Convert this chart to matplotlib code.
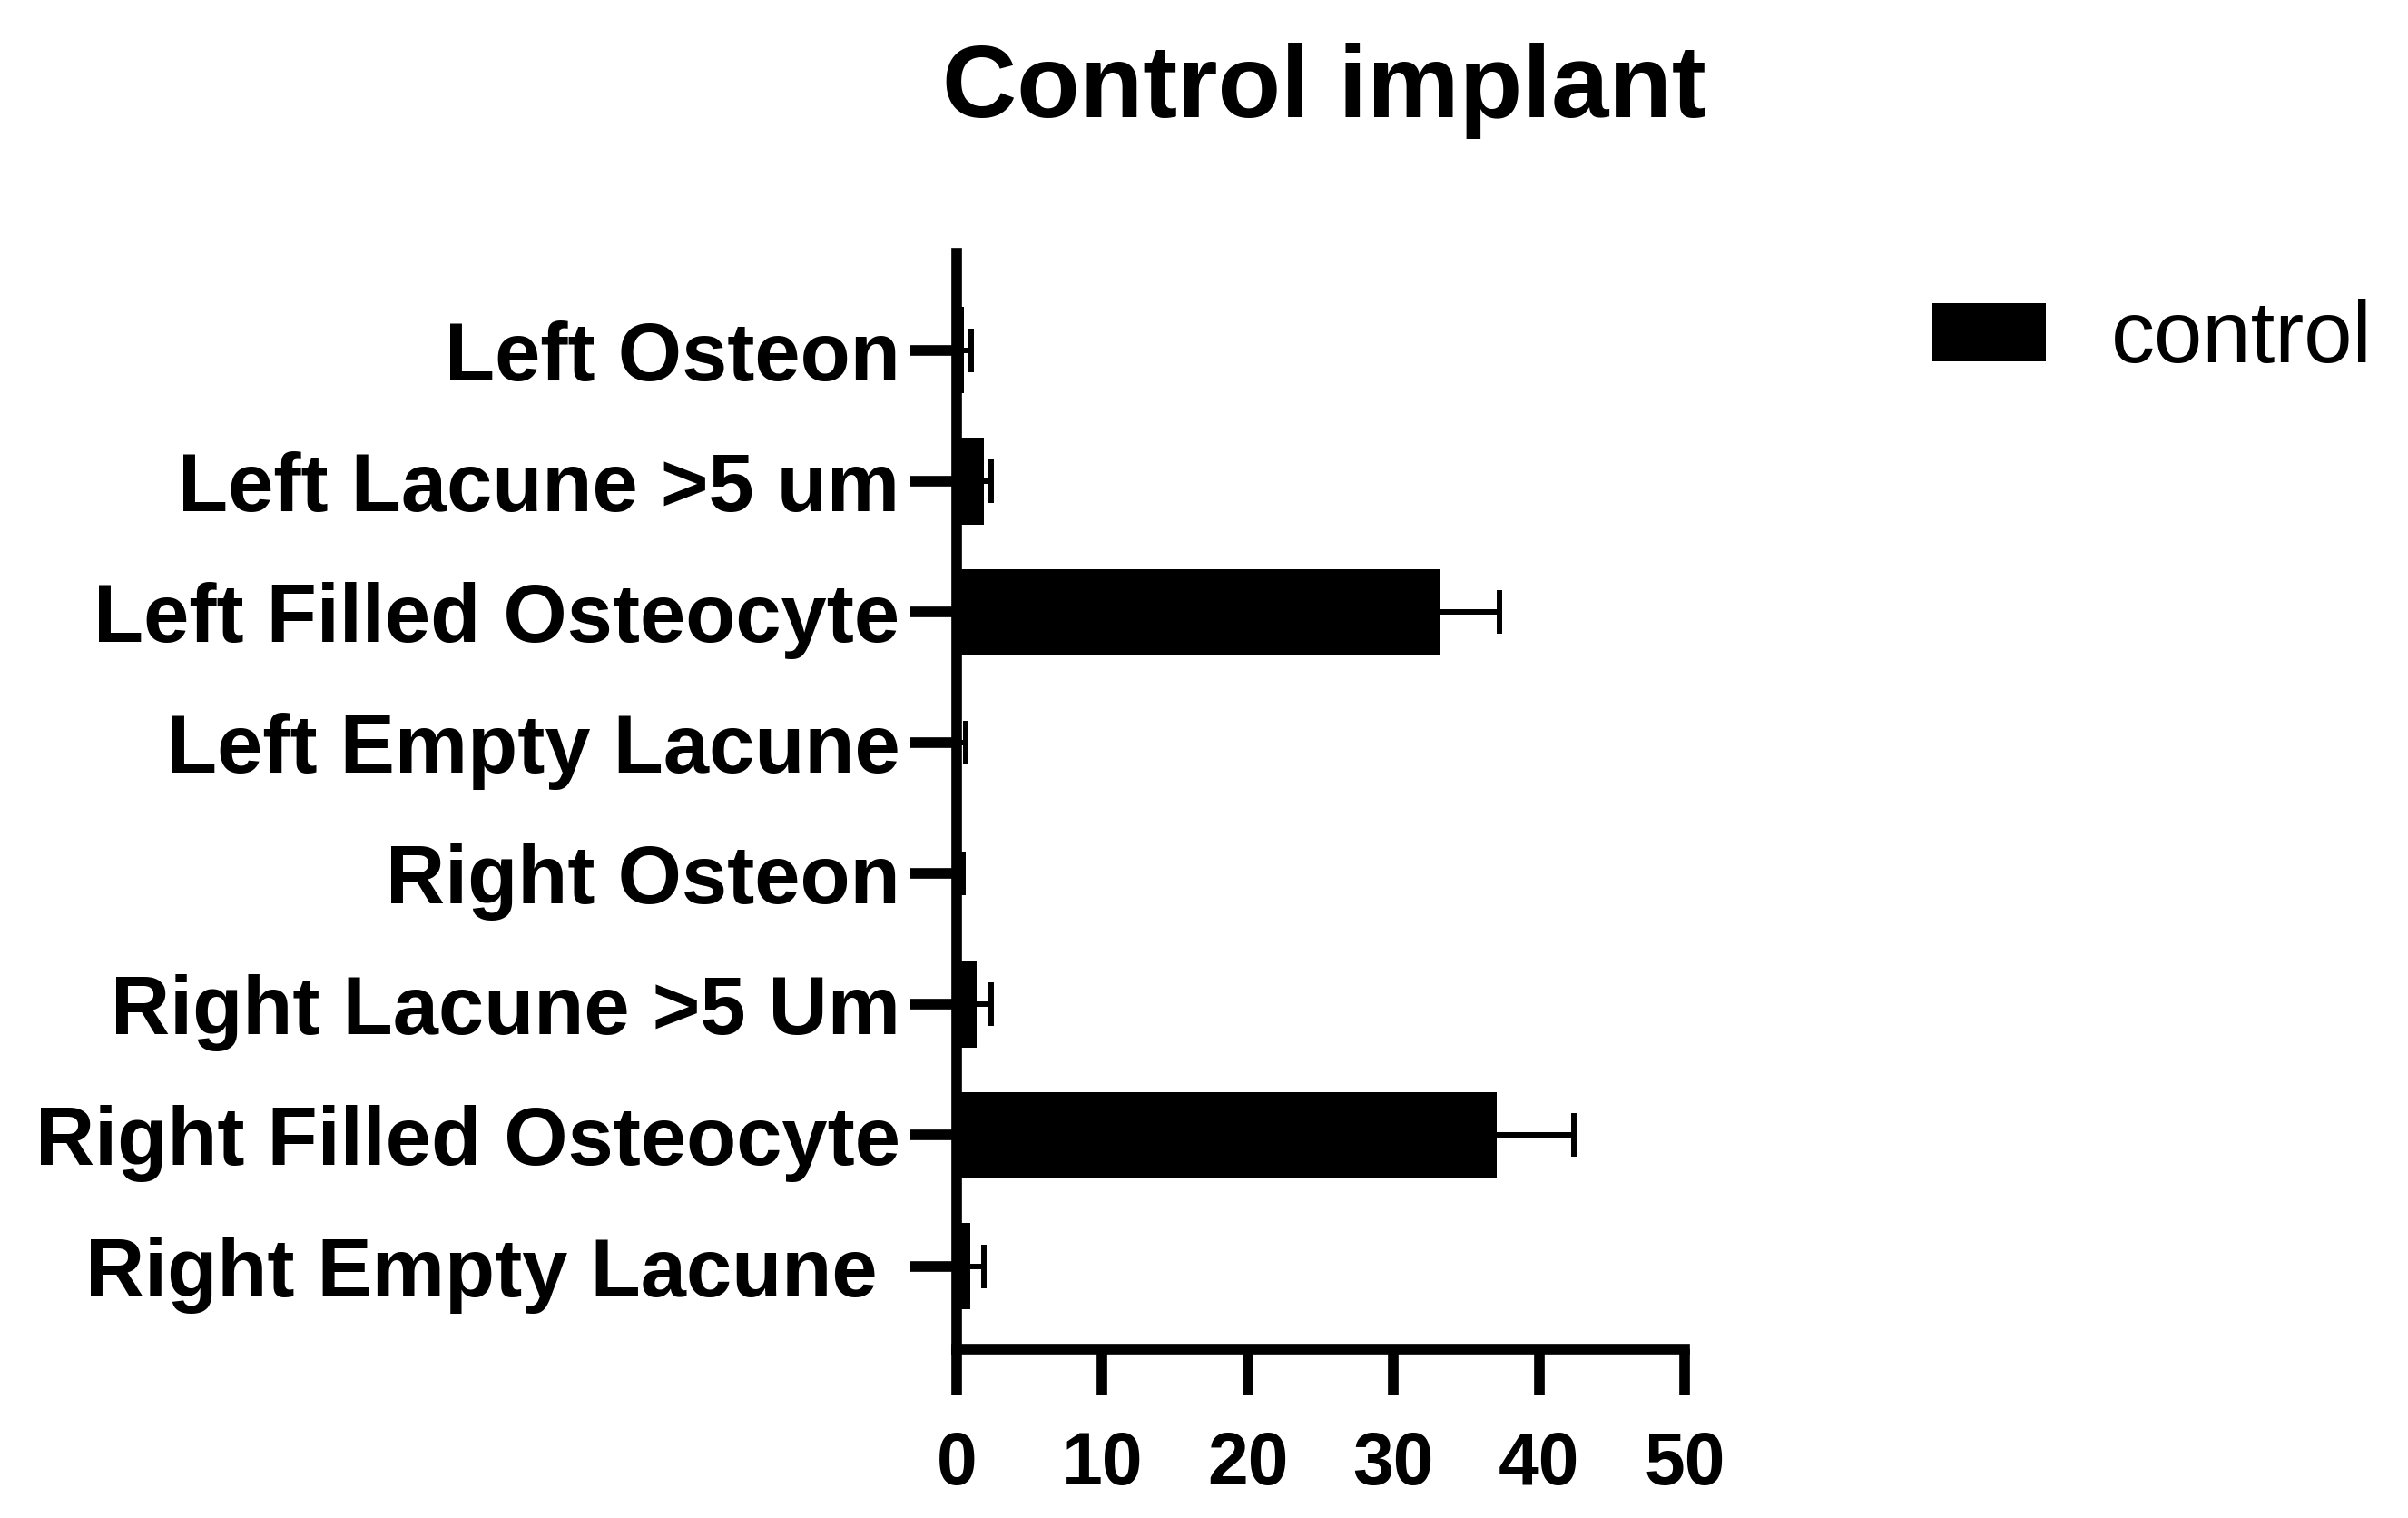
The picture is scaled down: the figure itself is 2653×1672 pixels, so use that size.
import numpy as np
import matplotlib.pyplot as plt

plt.rcParams['font.family'] = ['Liberation Sans', 'DejaVu Sans']

# categories, top to bottom
labels = ['Left Osteon', 'Left Lacune >5 um', 'Left Filled Osteocyte',
          'Left Empty Lacune', 'Right Osteon', 'Right Lacune >5 Um',
          'Right Filled Osteocyte', 'Right Empty Lacune ']
means = [0.5, 1.85, 33.2, 0.2, 0.1, 1.4, 37.1, 0.95]
errs = [0.5, 0.5, 4.1, 0.4, 0.35, 0.95, 5.3, 0.9]
xticks = [0, 10, 20, 30, 40, 50]

fig = plt.figure(figsize=(26.53, 16.72), dpi=100)
ax = fig.add_axes([0.3973, 0.1113, 0.3023, 0.7217])

y = np.arange(len(labels))
means = np.array(means)
errs = np.array(errs)
ax.barh(y, means, height=0.66, color='black', label='control', zorder=2)
# one-sided error bars (upper only), cap only at the far end
ax.errorbar(means, y, xerr=[np.zeros(len(errs)), errs], fmt='none',
            ecolor='black', elinewidth=4.3, capsize=0, zorder=3)
ax.plot(means + errs, y, linestyle='none', marker='|', markersize=35,
        markeredgewidth=4.3, color='black', zorder=3)

ax.set_yticks(y)
ax.set_yticklabels(labels, fontweight='bold', fontsize=65)
ax.set_ylim(len(labels) - 1 + 0.634, -0.74)
ax.set_xlim(0, 50)
ax.set_xticks(xticks)
ax.set_xticklabels([str(t) for t in xticks], fontweight='bold', fontsize=58)

for s in ['top', 'right']:
    ax.spines[s].set_visible(False)
ax.spines['left'].set_linewidth(8.4)
ax.spines['bottom'].set_linewidth(8.4)
ax.spines['left'].set_zorder(4)
ax.spines['bottom'].set_zorder(4)
ax.tick_params(axis='x', length=37, width=8.4, pad=28)
ax.tick_params(axis='y', length=37, width=8.4, pad=8)

fig.suptitle('Control implant', fontsize=82, fontweight='bold', x=0.55, y=0.972)

ax.legend(loc='upper left', bbox_to_anchor=(0.8025, 0.803), bbox_transform=fig.transFigure,
          frameon=False, fontsize=69, handlelength=1.3, handleheight=0.65,
          handletextpad=0.75, borderaxespad=0, borderpad=0)

fig.savefig('out.png', dpi=100)
